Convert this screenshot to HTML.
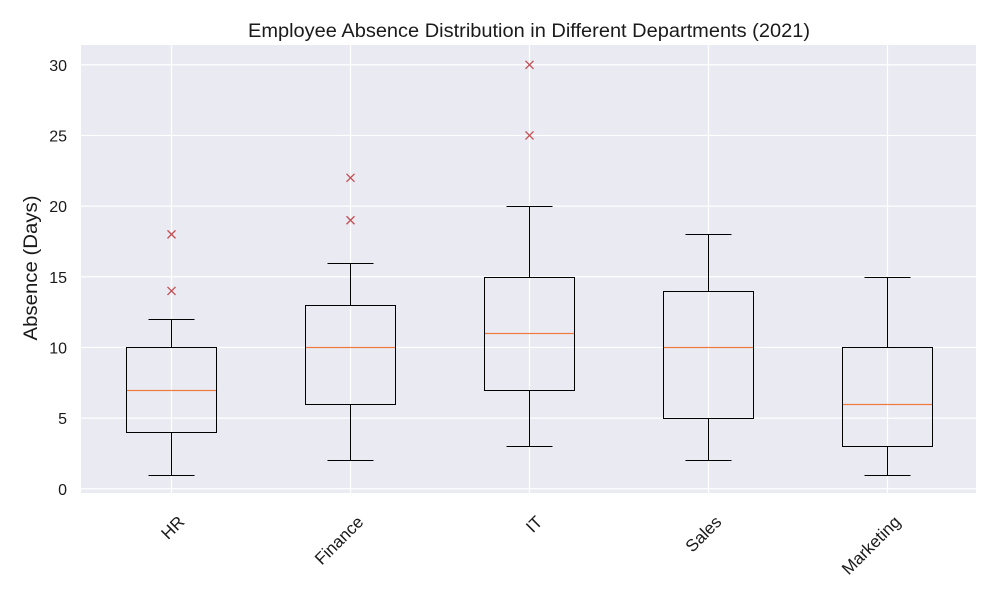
<!DOCTYPE html>
<html><head><meta charset="utf-8"><style>
body{margin:0;background:#fff;font-family:"Liberation Sans",Arial,sans-serif}
svg text{font-family:"Liberation Sans",Arial,sans-serif;fill:#1a1a1a}
</style></head><body>
<svg id="chart" width="1000" height="600" xmlns="http://www.w3.org/2000/svg">
<rect x="0" y="0" width="1000" height="600" fill="#fff"/>
<rect x="81" y="45" width="895" height="448" fill="#EAEAF2"/>
<g id="grid"></g><g id="marks"></g><g id="ticks"></g>
<text x="529" y="37" font-size="19" text-anchor="middle" textLength="562" lengthAdjust="spacingAndGlyphs">Employee Absence Distribution in Different Departments (2021)</text>
<text transform="translate(37,268) rotate(-90)" font-size="19" text-anchor="middle" textLength="145" lengthAdjust="spacingAndGlyphs">Absence (Days)</text>
</svg>
<script>
const categories=["HR","Finance","IT","Sales","Marketing"];
const whiskerLow=[1,2,3,2,1];
const q1=[4,6,7,5,3];
const medians=[7,10,11,10,6];
const q3=[10,13,15,14,10];
const whiskerHigh=[12,16,20,18,15];
const outliers=[[14,18],[19,22],[25,30],[],[]];
const yTicks=[0,5,10,15,20,25,30];
const L=81,R=976,T=45,B=493,ymin=-0.3,ymax=31.4;
const sx=i=>L+(i+1-0.5)*(R-L)/categories.length;
const sy=v=>B-(v-ymin)*(B-T)/(ymax-ymin);
const px=v=>Math.round(v)+0.5;
const NS="http://www.w3.org/2000/svg";
function mk(tag,attrs,parent){const e=document.createElementNS(NS,tag);for(const k in attrs)e.setAttribute(k,attrs[k]);parent.appendChild(e);return e;}
const grid=document.getElementById('grid'),marks=document.getElementById('marks'),ticks=document.getElementById('ticks');
yTicks.forEach(v=>{
 const l=mk('line',{x1:L,x2:R,y1:sy(v),y2:sy(v),stroke:'#fff','stroke-width':1.2},grid);
 
 
 const t=mk('text',{x:L-14,y:sy(v)+6,'font-size':16,'text-anchor':'end'},ticks);
 t.textContent=v;
 
 
});
categories.forEach((c,i)=>{
 const x=px(sx(i));
 const g=mk('line',{x1:x,x2:x,y1:T,y2:B,stroke:'#fff','stroke-width':1.2},grid);
 
 
 const bw=Math.round((R-L)/categories.length*0.25), cw=Math.round(bw/2);
 const grp=mk('g',{},marks);
 
 
 const yl=px(sy(whiskerLow[i])),y1=px(sy(q1[i])),y3=px(sy(q3[i])),yh=px(sy(whiskerHigh[i])),ym=px(sy(medians[i]));
 mk('line',{x1:x,x2:x,y1:yl,y2:y1,stroke:'#000'},grp);
 mk('line',{x1:x,x2:x,y1:y3,y2:yh,stroke:'#000'},grp);
 mk('line',{x1:x-cw,x2:x+cw,y1:yl,y2:yl,stroke:'#000'},grp);
 mk('line',{x1:x-cw,x2:x+cw,y1:yh,y2:yh,stroke:'#000'},grp);
 mk('rect',{x:x-bw,y:y3,width:2*bw,height:y1-y3,fill:'none',stroke:'#000'},grp);
 const m=mk('rect',{x:x-bw+0.5,y:ym-0.6,width:2*bw-1,height:1.2,fill:'#F07A3C'},grp);
 
 
 outliers[i].forEach(o=>{
  const y=sy(o);
  const f=mk('path',{d:`M${x-4},${y-4}L${x+4},${y+4}M${x-4},${y+4}L${x+4},${y-4}`,stroke:'#C44E52','stroke-width':1.3},grp);
  
  
 });
 const t=mk('text',{transform:`translate(${x+14},${B+30}) rotate(-45)`,'font-size':17,'text-anchor':'end'},ticks);
 t.textContent=c;
 
 
});
</script>
</body></html>
